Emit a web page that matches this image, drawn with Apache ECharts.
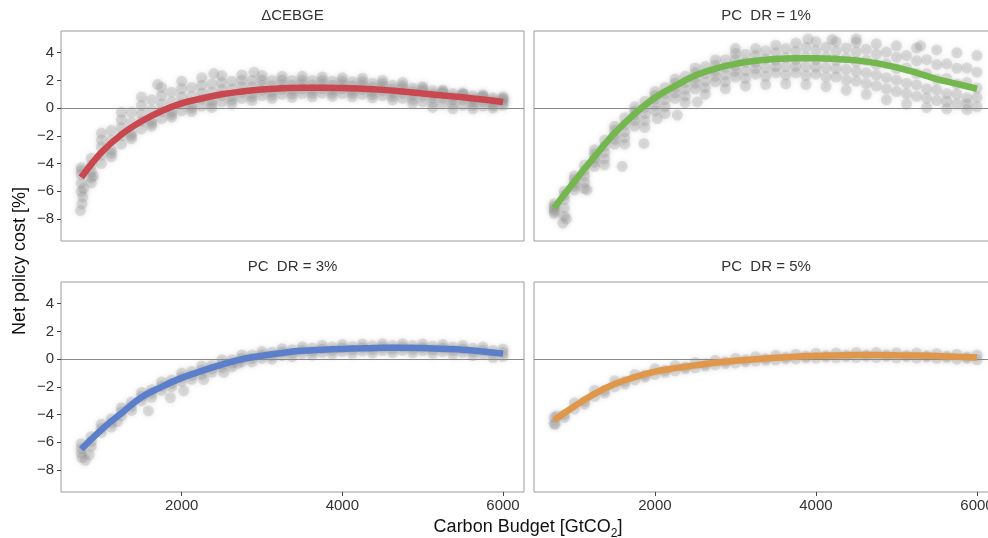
<!DOCTYPE html>
<html>
<head>
<meta charset="utf-8">
<script src="https://cdn.jsdelivr.net/npm/echarts@6/dist/echarts.min.js"></script>
<style>
html,body{margin:0;padding:0;background:#fff;}
#chart{width:988px;height:538px;}
</style>
</head>
<body>
<div id="chart"></div>
<script>
// ---------- data ----------
const panelTitles = ['\u0394CEBGE', 'PC  DR = 1%', 'PC  DR = 3%', 'PC  DR = 5%'];
const lineColors = ['#c9474f', '#74b74e', '#5b7fcb', '#df984b'];
const xTicks = [2000, 4000, 6000];
const yTicks = [-8, -6, -4, -2, 0, 2, 4];

// fitted curves
const budget = [750, 1000, 1250, 1500, 1750, 2000, 2250, 2500, 2750, 3000, 3250, 3500, 3750, 4000, 4250, 4500, 4750, 5000, 5250, 5500, 5750, 6000];
const costCEBGE = [-5.0, -3.2, -1.9, -0.95, -0.2, 0.35, 0.7, 1.0, 1.2, 1.35, 1.43, 1.48, 1.48, 1.45, 1.4, 1.32, 1.2, 1.06, 0.92, 0.78, 0.62, 0.45];
const costDR1 = [-7.2, -5.3, -3.5, -1.8, -0.4, 0.75, 1.6, 2.35, 2.85, 3.2, 3.42, 3.55, 3.6, 3.6, 3.55, 3.45, 3.25, 2.95, 2.55, 2.1, 1.75, 1.4];
const costDR3 = [-6.5, -5.1, -3.9, -2.75, -2.0, -1.35, -0.85, -0.4, 0.0, 0.25, 0.45, 0.6, 0.68, 0.74, 0.78, 0.82, 0.83, 0.8, 0.75, 0.68, 0.55, 0.4];
const costDR5 = [-4.4, -3.4, -2.5, -1.8, -1.3, -0.9, -0.65, -0.45, -0.26, -0.12, 0.0, 0.1, 0.18, 0.24, 0.27, 0.3, 0.3, 0.28, 0.26, 0.22, 0.17, 0.12];

// scatter clouds: runs sampled at budget (A) and budgetB
const budgetB = [875, 1125, 1375, 1625, 1875, 2125, 2375, 2625, 2875, 3125, 3375, 3625, 3875, 4125, 4375, 4625, 4875, 5125, 5375, 5625, 5875];

const cebgeRunsA = [
  [-4.3, -1.8, -0.3, 0.8, 1.5, 1.95, 2.2, 2.35, 2.4, 2.35, 2.3, 2.3, 2.25, 2.2, 2.15, 2.0, 1.85, 1.55, 1.3, 1.1, 0.95, 0.8],
  [-4.5, -2.3, -0.85, 0.2, 0.9, 1.4, 1.65, 1.85, 2.0, 2.02, 2.02, 2.02, 2.0, 1.95, 1.9, 1.78, 1.62, 1.4, 1.2, 1.02, 0.88, 0.7],
  [-4.8, -2.8, -1.4, -0.4, 0.3, 0.8, 1.1, 1.35, 1.55, 1.65, 1.7, 1.72, 1.72, 1.7, 1.65, 1.55, 1.4, 1.25, 1.1, 0.95, 0.8, 0.6],
  [-5.4, -3.4, -2.0, -0.95, -0.25, 0.3, 0.65, 0.92, 1.12, 1.28, 1.36, 1.4, 1.42, 1.4, 1.35, 1.25, 1.08, 0.88, 0.72, 0.6, 0.48, 0.38],
  [-6.0, -4.0, -2.6, -1.5, -0.75, -0.2, 0.15, 0.45, 0.7, 0.9, 1.0, 1.05, 1.08, 1.05, 1.0, 0.9, 0.7, 0.45, 0.3, 0.2, 0.15, 0.2]
];
const cebgeRunsB = [
  [-3.6, -1.6, -0.3, 0.6, 1.15, 1.5, 1.75, 1.95, 2.0, 2.0, 2.0, 2.0, 1.95, 1.9, 1.8, 1.65, 1.45, 1.25, 1.05, 0.9, 0.75],
  [-4.1, -2.3, -1.05, -0.15, 0.45, 0.85, 1.15, 1.4, 1.55, 1.62, 1.66, 1.68, 1.66, 1.62, 1.52, 1.38, 1.2, 1.0, 0.82, 0.68, 0.55],
  [-4.6, -3.0, -1.8, -0.9, -0.25, 0.2, 0.55, 0.85, 1.05, 1.2, 1.3, 1.32, 1.32, 1.3, 1.22, 1.1, 0.92, 0.75, 0.6, 0.48, 0.35],
  [-5.0, -3.25, -2.0, -1.1, -0.45, 0.0, 0.3, 0.58, 0.8, 0.95, 1.04, 1.07, 1.08, 1.06, 0.98, 0.85, 0.63, 0.4, 0.27, 0.2, 0.17],
  [-5.4, -3.5, -2.2, -1.3, -0.65, -0.25, 0.05, 0.3, 0.55, 0.7, 0.78, 0.82, 0.85, 0.82, 0.75, 0.6, 0.35, 0.05, -0.05, -0.05, 0.0]
];
const cebgeExtra = [[760, -6.9], [740, -7.4], [780, -5.8], [770, -6.4], [900, -4.9], [1700, 1.7], [2400, 2.5], [2900, 2.6]];

const dr1RunsA = [
  [-6.9, -4.9, -3.0, -1.3, 0.1, 1.2, 2.1, 2.9, 3.5, 3.95, 4.3, 4.55, 4.7, 4.8, 4.8, 4.75, 4.65, 4.5, 4.35, 4.2, 4.0, 3.8],
  [-7.1, -5.15, -3.3, -1.6, -0.2, 0.9, 1.8, 2.55, 3.1, 3.5, 3.8, 4.0, 4.1, 4.15, 4.12, 4.05, 3.9, 3.68, 3.42, 3.15, 2.88, 2.6],
  [-7.3, -5.4, -3.6, -1.9, -0.5, 0.65, 1.5, 2.2, 2.7, 3.05, 3.3, 3.45, 3.5, 3.5, 3.45, 3.35, 3.15, 2.85, 2.5, 2.1, 1.75, 1.45],
  [-7.45, -5.65, -3.9, -2.25, -0.9, 0.22, 1.1, 1.8, 2.3, 2.65, 2.88, 3.0, 3.02, 2.98, 2.85, 2.65, 2.38, 2.02, 1.68, 1.32, 1.02, 0.78],
  [-7.6, -5.9, -4.2, -2.6, -1.3, -0.2, 0.7, 1.4, 1.9, 2.25, 2.45, 2.55, 2.55, 2.45, 2.25, 1.95, 1.6, 1.2, 0.85, 0.55, 0.3, 0.1]
];
const dr1RunsB = [
  [-6.0, -4.1, -2.3, -0.7, 0.5, 1.5, 2.3, 3.0, 3.5, 3.9, 4.15, 4.3, 4.4, 4.4, 4.35, 4.25, 4.05, 3.8, 3.5, 3.2, 2.9],
  [-6.3, -4.5, -2.75, -1.2, 0.05, 1.05, 1.85, 2.5, 2.95, 3.3, 3.55, 3.65, 3.72, 3.7, 3.62, 3.45, 3.2, 2.9, 2.5, 2.15, 1.85],
  [-6.6, -4.9, -3.2, -1.7, -0.4, 0.6, 1.35, 1.95, 2.4, 2.7, 2.9, 3.0, 3.0, 2.95, 2.8, 2.55, 2.2, 1.8, 1.4, 1.05, 0.75],
  [-7.2, -5.35, -3.65, -2.15, -0.9, 0.1, 0.88, 1.48, 1.9, 2.15, 2.3, 2.38, 2.35, 2.25, 2.05, 1.78, 1.4, 1.05, 0.72, 0.48, 0.3],
  [-7.8, -5.8, -4.1, -2.6, -1.4, -0.4, 0.4, 1.0, 1.4, 1.6, 1.7, 1.75, 1.7, 1.55, 1.3, 1.0, 0.6, 0.3, 0.05, -0.05, -0.1]
];
const dr1Extra = [[1157, -5.9], [1593, -4.2], [1863, -2.55], [2029, -0.75], [2278, -0.5], [2527, 0.45], [855, -8.3], [900, -8.0], [3000, 4.3], [3900, 5.0], [4500, 5.0], [4200, 4.95], [5300, 4.5]];

const dr3RunsA = [
  [-6.1, -4.7, -3.5, -2.4, -1.65, -1.0, -0.5, -0.05, 0.3, 0.55, 0.75, 0.9, 1.0, 1.05, 1.1, 1.12, 1.12, 1.1, 1.05, 0.98, 0.88, 0.72],
  [-6.45, -5.0, -3.8, -2.7, -1.95, -1.3, -0.8, -0.35, 0.05, 0.3, 0.5, 0.65, 0.74, 0.8, 0.84, 0.87, 0.88, 0.85, 0.8, 0.73, 0.62, 0.46],
  [-6.8, -5.3, -4.1, -3.0, -2.25, -1.6, -1.1, -0.6, -0.2, 0.05, 0.25, 0.4, 0.48, 0.55, 0.58, 0.62, 0.63, 0.6, 0.55, 0.48, 0.35, 0.2]
];
const dr3RunsB = [
  [-5.6, -4.3, -3.1, -2.2, -1.5, -0.9, -0.45, -0.05, 0.3, 0.5, 0.68, 0.8, 0.88, 0.92, 0.96, 0.98, 0.98, 0.94, 0.88, 0.78, 0.62],
  [-5.95, -4.6, -3.4, -2.45, -1.75, -1.18, -0.7, -0.3, 0.05, 0.25, 0.43, 0.55, 0.63, 0.67, 0.7, 0.73, 0.72, 0.68, 0.62, 0.52, 0.37],
  [-6.3, -4.9, -3.7, -2.75, -2.0, -1.45, -0.95, -0.55, -0.2, 0.0, 0.18, 0.3, 0.38, 0.42, 0.45, 0.48, 0.46, 0.42, 0.35, 0.25, 0.12]
];
const dr3Extra = [[760, -7.1], [800, -7.3], [850, -6.9], [1585, -3.74], [1860, -2.78], [2026, -2.29], [2275, -1.47], [2524, -0.96], [1200, -4.5], [2700, -0.3]];

const dr5RunsA = [
  [-4.2, -3.15, -2.25, -1.55, -1.1, -0.7, -0.45, -0.25, -0.08, 0.06, 0.18, 0.28, 0.35, 0.42, 0.45, 0.48, 0.48, 0.46, 0.44, 0.4, 0.35, 0.3],
  [-4.65, -3.6, -2.7, -2.0, -1.5, -1.1, -0.85, -0.62, -0.42, -0.28, -0.15, -0.06, 0.02, 0.08, 0.1, 0.12, 0.12, 0.1, 0.08, 0.05, 0.0, -0.05]
];
const dr5RunsB = [
  [-4.0, -3.05, -2.25, -1.6, -1.15, -0.8, -0.55, -0.35, -0.18, -0.05, 0.05, 0.15, 0.22, 0.27, 0.3, 0.31, 0.31, 0.29, 0.26, 0.22, 0.16],
  [-4.2, -3.25, -2.45, -1.8, -1.3, -0.95, -0.7, -0.5, -0.32, -0.2, -0.08, 0.02, 0.1, 0.15, 0.18, 0.2, 0.2, 0.18, 0.15, 0.12, 0.06]
];
const dr5Extra = [[760, -4.7], [780, -4.1]];

// ---------- build ----------
const curves = [costCEBGE, costDR1, costDR3, costDR5];
const runsA = [cebgeRunsA, dr1RunsA, dr3RunsA, dr5RunsA];
const runsB = [cebgeRunsB, dr1RunsB, dr3RunsB, dr5RunsB];
const extras = [cebgeExtra, dr1Extra, dr3Extra, dr5Extra];

function cloud(i) {
  const pts = [];
  runsA[i].forEach(r => r.forEach((v, k) => pts.push([budget[k], v])));
  runsB[i].forEach(r => r.forEach((v, k) => pts.push([budgetB[k], v])));
  extras[i].forEach(p => pts.push(p));
  return pts;
}

const gridPos = [
  {left: 61, top: 31, width: 463, height: 210},
  {left: 534, top: 31, width: 464, height: 210},
  {left: 61, top: 282, width: 463, height: 210},
  {left: 534, top: 282, width: 464, height: 210}
];
const XMIN = 498, XMAX = 6261, YMIN = -9.59, YMAX = 5.57;
const txt = '#333';
const font = 'Liberation Sans, Arial, sans-serif';

const grids = gridPos.map(g => Object.assign({
  show: true, borderColor: '#9a9a9a', borderWidth: 1, backgroundColor: '#fff',
  containLabel: false, outerBoundsMode: 'none'
}, g));
const xAxes = gridPos.map((g, i) => ({
  type: 'value', gridIndex: i, min: XMIN, max: XMAX, position: 'bottom',
  splitLine: {show: false}, axisLine: {show: false, onZero: false},
  axisTick: {show: i >= 2, customValues: xTicks, length: 4, lineStyle: {color: '#444'}},
  axisLabel: {show: i >= 2, customValues: xTicks, fontSize: 15, color: txt, margin: 6, fontFamily: font,
    hideOverlap: false, formatter: v => String(v)}
}));
const yAxes = gridPos.map((g, i) => ({
  type: 'value', gridIndex: i, min: YMIN, max: YMAX, position: 'left',
  splitLine: {show: false}, axisLine: {show: false, onZero: false},
  axisTick: {show: i % 2 === 0, customValues: yTicks, length: 4, lineStyle: {color: '#444'}},
  axisLabel: {show: i % 2 === 0, customValues: yTicks, fontSize: 15, color: txt, margin: 7, fontFamily: font,
    formatter: v => String(v).replace('-', '\u2212')}
}));

const series = [];
for (let i = 0; i < 4; i++) {
  series.push({
    type: 'scatter', xAxisIndex: i, yAxisIndex: i, z: 1, silent: true,
    symbolSize: 11, data: cloud(i),
    itemStyle: {color: '#8f8f8f', opacity: 0.24, shadowBlur: 5, shadowColor: 'rgba(143,143,143,0.9)'},
    markLine: {silent: true, symbol: 'none', label: {show: false},
      lineStyle: {color: '#8a8a8a', width: 1.2, type: 'solid'}, data: [{yAxis: 0}], z: 2}
  });
  series.push({
    type: 'line', xAxisIndex: i, yAxisIndex: i, z: 3, silent: true,
    showSymbol: false, smooth: 0.4,
    data: budget.map((x, k) => [x, curves[i][k]]),
    lineStyle: {color: lineColors[i], width: 6.5, cap: 'butt'}
  });
}

const graphic = [];
const titlePos = [[292.5, 16], [766, 16], [292.5, 267], [766, 267]];
panelTitles.forEach((t, i) => graphic.push({
  type: 'text', x: titlePos[i][0], y: titlePos[i][1], silent: true,
  style: {text: t, fill: txt, font: '15px ' + font, align: 'center', verticalAlign: 'middle'}
}));
graphic.push({
  type: 'text', x: 20, y: 261, rotation: Math.PI / 2, silent: true,
  style: {text: 'Net policy cost [%]', fill: '#111', font: '18px ' + font, align: 'center', verticalAlign: 'middle'}
});
graphic.push({
  type: 'text', x: 528, y: 527, silent: true,
  style: {
    text: 'Carbon Budget [GtCO{sub|2}]', fill: '#111', font: '18px ' + font,
    align: 'center', verticalAlign: 'middle',
    rich: {sub: {fontSize: 12, fontFamily: font, fill: '#111', verticalAlign: 'bottom', lineHeight: 12, padding: [0, 0, -4, 0]}}
  }
});

const chart = echarts.init(document.getElementById('chart'), null, {renderer: 'canvas'});
chart.setOption({
  backgroundColor: '#fff',
  animation: false,
  grid: grids,
  xAxis: xAxes,
  yAxis: yAxes,
  series: series,
  graphic: graphic
});
</script>
</body>
</html>
